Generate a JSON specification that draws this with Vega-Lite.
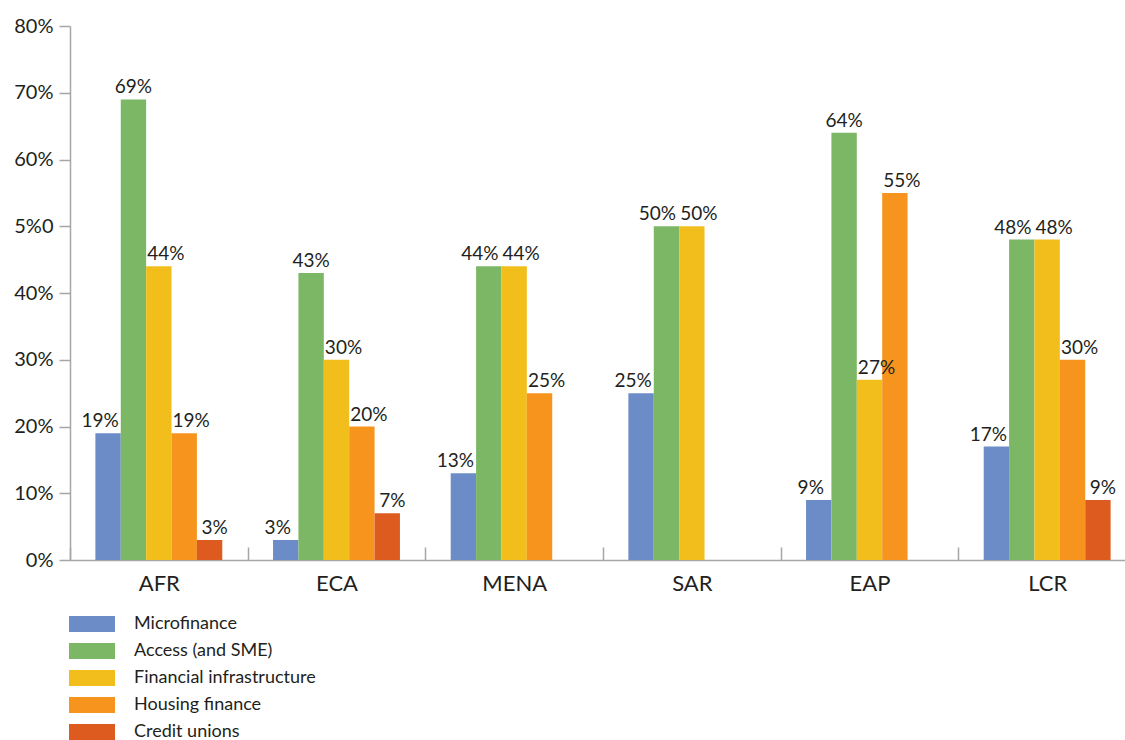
{
  "$schema": "https://vega.github.io/schema/vega-lite/v6.json",
  "autosize": {"type": "none"},
  "padding": {"left": 70, "top": 26, "right": 0, "bottom": 180},
  "width": 1066,
  "height": 534,
  "background": "white",
  "config": {
    "font": "Lato",
    "view": {"stroke": null}
  },
  "data": {
    "values": [
      {"region": "AFR", "type": "Microfinance", "value": 0.19},
      {"region": "AFR", "type": "Access (and SME)", "value": 0.69},
      {"region": "AFR", "type": "Financial infrastructure", "value": 0.44},
      {"region": "AFR", "type": "Housing finance", "value": 0.19},
      {"region": "AFR", "type": "Credit unions", "value": 0.03},
      {"region": "ECA", "type": "Microfinance", "value": 0.03},
      {"region": "ECA", "type": "Access (and SME)", "value": 0.43},
      {"region": "ECA", "type": "Financial infrastructure", "value": 0.30},
      {"region": "ECA", "type": "Housing finance", "value": 0.20},
      {"region": "ECA", "type": "Credit unions", "value": 0.07},
      {"region": "MENA", "type": "Microfinance", "value": 0.13},
      {"region": "MENA", "type": "Access (and SME)", "value": 0.44},
      {"region": "MENA", "type": "Financial infrastructure", "value": 0.44},
      {"region": "MENA", "type": "Housing finance", "value": 0.25},
      {"region": "MENA", "type": "Credit unions", "value": 0},
      {"region": "SAR", "type": "Microfinance", "value": 0.25},
      {"region": "SAR", "type": "Access (and SME)", "value": 0.50},
      {"region": "SAR", "type": "Financial infrastructure", "value": 0.50},
      {"region": "SAR", "type": "Housing finance", "value": 0},
      {"region": "SAR", "type": "Credit unions", "value": 0},
      {"region": "EAP", "type": "Microfinance", "value": 0.09},
      {"region": "EAP", "type": "Access (and SME)", "value": 0.64},
      {"region": "EAP", "type": "Financial infrastructure", "value": 0.27},
      {"region": "EAP", "type": "Housing finance", "value": 0.55},
      {"region": "EAP", "type": "Credit unions", "value": 0},
      {"region": "LCR", "type": "Microfinance", "value": 0.17},
      {"region": "LCR", "type": "Access (and SME)", "value": 0.48},
      {"region": "LCR", "type": "Financial infrastructure", "value": 0.48},
      {"region": "LCR", "type": "Housing finance", "value": 0.30},
      {"region": "LCR", "type": "Credit unions", "value": 0.09}
    ]
  },
  "transform": [
    {"calculate": "indexof(['Microfinance', 'Access (and SME)', 'Financial infrastructure', 'Housing finance', 'Credit unions'], datum.type)", "as": "idx"},
    {"window": [{"op": "lead", "field": "value", "as": "nextVal"}], "groupby": ["region"], "sort": [{"field": "idx", "order": "ascending"}]}
  ],
  "encoding": {
    "x": {
      "field": "region",
      "type": "nominal",
      "sort": ["AFR", "ECA", "MENA", "SAR", "EAP", "LCR"],
      "scale": {"paddingInner": 0, "paddingOuter": 0},
      "axis": {
        "title": null,
        "labelAngle": 0,
        "labelFontSize": 22,
        "labelColor": "#231f20",
        "tickBand": "extent",
        "tickSize": -13,
        "tickColor": "#a6a6a6",
        "tickWidth": 1.5,
        "domainColor": "#a6a6a6",
        "domainWidth": 1.5,
        "labelPadding": 26
      }
    },
    "xOffset": {
      "field": "type",
      "type": "nominal",
      "sort": ["Microfinance", "Access (and SME)", "Financial infrastructure", "Housing finance", "Credit unions"],
      "scale": {"paddingInner": 0, "paddingOuter": 1.054}
    },
    "y": {
      "field": "value",
      "type": "quantitative",
      "scale": {"domain": [0, 0.8], "nice": false},
      "axis": {
        "title": null,
        "grid": false,
        "values": [0, 0.1, 0.2, 0.3, 0.4, 0.5, 0.6, 0.7, 0.8],
        "labelExpr": "datum.value == 0.5 ? '5%0' : format(datum.value, '.0%')",
        "labelFontSize": 20,
        "labelColor": "#231f20",
        "tickSize": 11,
        "tickColor": "#a6a6a6",
        "tickWidth": 1.5,
        "domainColor": "#a6a6a6",
        "domainWidth": 1.5,
        "labelPadding": 6
      }
    }
  },
  "layer": [
    {
      "mark": {"type": "bar"},
      "encoding": {
        "color": {
          "field": "type",
          "type": "nominal",
          "sort": ["Microfinance", "Access (and SME)", "Financial infrastructure", "Housing finance", "Credit unions"],
          "scale": {
            "domain": ["Microfinance", "Access (and SME)", "Financial infrastructure", "Housing finance", "Credit unions"],
            "range": ["#6b8cc7", "#7cb766", "#f2be1c", "#f7941e", "#de5b20"]
          },
          "legend": {
            "title": null,
            "orient": "none",
            "legendX": 13,
            "legendY": 589,
            "direction": "vertical",
            "symbolType": "M-2.875,-1H2.875V1H-2.875Z",
            "symbolSize": 256,
            "symbolStrokeWidth": 0,
            "symbolOpacity": 1,
            "labelFontSize": 18,
            "labelColor": "#231f20",
            "labelOffset": 33,
            "labelLimit": 400,
            "rowPadding": 9
          }
        }
      }
    },
    {
      "transform": [{"filter": "datum.value > 0 && datum.type == 'Microfinance'"}],
      "mark": {"type": "text", "baseline": "alphabetic", "dy": -6, "dx": -8, "fontSize": 19, "color": "#231f20"},
      "encoding": {"text": {"field": "value", "type": "quantitative", "format": ".0%"}}
    },
    {
      "transform": [{"filter": "datum.value > 0 && datum.type == 'Access (and SME)' && datum.nextVal != datum.value"}],
      "mark": {"type": "text", "baseline": "alphabetic", "dy": -6, "dx": 0, "fontSize": 19, "color": "#231f20"},
      "encoding": {"text": {"field": "value", "type": "quantitative", "format": ".0%"}}
    },
    {
      "transform": [{"filter": "datum.value > 0 && datum.type == 'Access (and SME)' && datum.nextVal == datum.value"}],
      "mark": {"type": "text", "baseline": "alphabetic", "dy": -6, "dx": -9, "fontSize": 19, "color": "#231f20"},
      "encoding": {"text": {"field": "value", "type": "quantitative", "format": ".0%"}}
    },
    {
      "transform": [{"filter": "datum.value > 0 && (datum.type == 'Financial infrastructure' || datum.type == 'Housing finance')"}],
      "mark": {"type": "text", "baseline": "alphabetic", "dy": -6, "dx": 7, "fontSize": 19, "color": "#231f20"},
      "encoding": {"text": {"field": "value", "type": "quantitative", "format": ".0%"}}
    },
    {
      "transform": [{"filter": "datum.value > 0 && datum.type == 'Credit unions'"}],
      "mark": {"type": "text", "baseline": "alphabetic", "dy": -6, "dx": 5, "fontSize": 19, "color": "#231f20"},
      "encoding": {"text": {"field": "value", "type": "quantitative", "format": ".0%"}}
    }
  ]
}
